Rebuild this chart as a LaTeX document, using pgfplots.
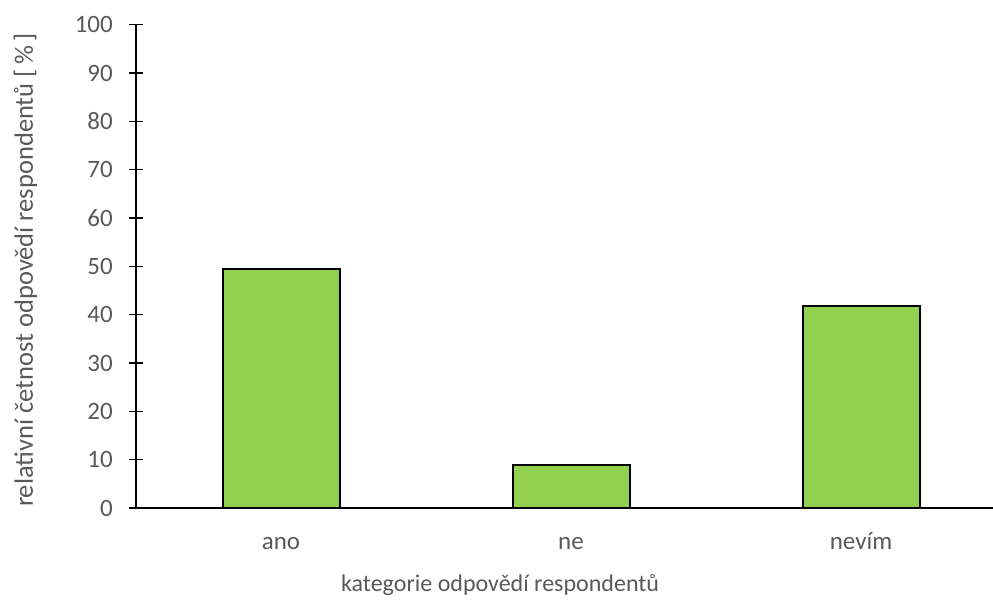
\documentclass[border=0pt]{standalone}
\usepackage{fontspec}
\setmainfont{Carlito}
\usepackage{pgfplots}
\pgfplotsset{compat=1.18}
\definecolor{bargreen}{HTML}{92D050}
\definecolor{txtgrey}{HTML}{595959}
\newcommand\cfont{\fontsize{25pt}{30pt}\selectfont}
\newcommand\xtfont{\fontsize{24pt}{29pt}\selectfont}
\newcommand\tfont{\fontsize{26.5pt}{32pt}\selectfont}
\begin{document}
\begin{tikzpicture}
\useasboundingbox (-136pt,-93pt) rectangle (857pt,508pt);
\begin{axis}[
  at={(0,0)}, anchor=south west,
  scale only axis,
  width=857pt, height=483.3pt,
  xmin=-0.5, xmax=2.455,
  ymin=0, ymax=100,
  ytick={0,10,...,100},
  xtick=data,
  xticklabels={ano,ne,nevím},
  axis lines=left,
  axis line style={-, black, line width=1.5pt},
  tick align=center,
  major tick length=14pt,
  ytick style={black, line width=1.5pt},
  xtick style={draw=none},
  /pgf/number format/assume math mode=true,
  tick label style={font=\cfont, text=txtgrey},
  yticklabel style={anchor=east, inner sep=0pt, xshift=-16pt},
  xticklabel style={anchor=base, inner sep=0pt, yshift=-28pt},
  xlabel={kategorie odpovědí respondentů},
  ylabel={relativní četnost odpovědí respondentů [\,\%\,]},
  every axis x label/.style={at={([xshift=205pt,yshift=-84pt]axis description cs:0,0)}, anchor=base west, inner sep=0pt, font=\xtfont, text=txtgrey},
  every axis y label/.style={at={([xshift=-103pt,yshift=475pt]axis description cs:0,0)}, rotate=90, anchor=base east, inner sep=0pt, font=\tfont, text=txtgrey},
  ybar, bar width=117pt,
  clip=false,
]
\addplot[fill=bargreen, draw=black, line width=2pt] coordinates {(0,49.4) (1,8.9) (2,41.7)};
\end{axis}
\end{tikzpicture}
\end{document}
